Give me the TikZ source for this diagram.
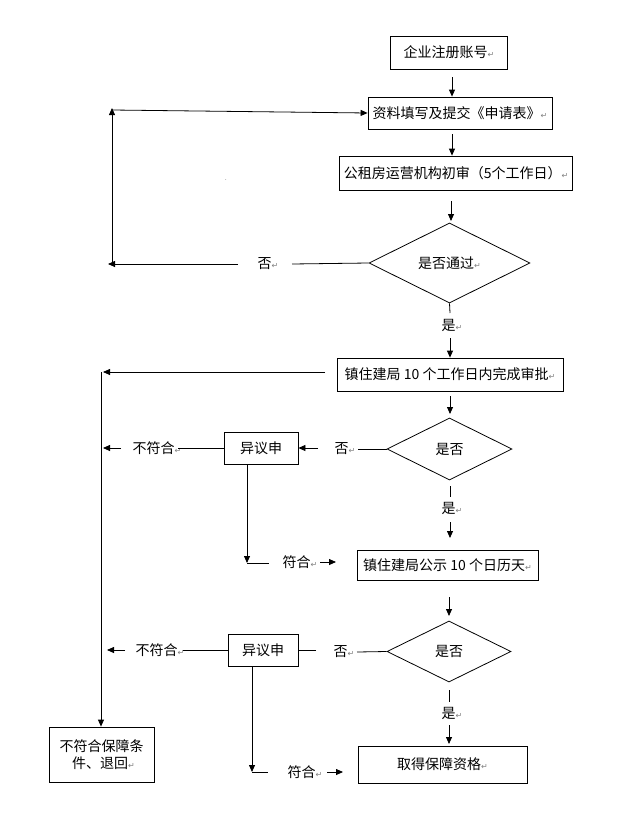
\documentclass[tikz,border=0pt]{standalone}
\usepackage{fontspec}
\newfontfamily\cjk{Noto Sans CJK SC}
\newfontfamily\dejavu{DejaVu Sans}
\usetikzlibrary{arrows.meta,shapes.geometric}
\newcommand{\ret}{{\color{gray}\dejavu\fontsize{8}{8}\selectfont ↵}}
\tikzset{
  box/.style={draw, line width=0.8pt, inner sep=0pt, font=\cjk\fontsize{14}{17}\selectfont},
  dia/.style={draw, diamond, line width=0.8pt, inner sep=0pt, font=\cjk\fontsize{14}{17}\selectfont},
  lbl/.style={inner sep=0pt, font=\cjk\fontsize{14}{17}\selectfont},
  ln/.style={line width=0.8pt},
  arr/.style={line width=0.8pt, -{Triangle[length=7pt,width=6pt]}}
}
\begin{document}
\begin{tikzpicture}[x=1pt,y=-1pt]
\useasboundingbox (0,0) rectangle (628,835);
% boxes
\node[box, minimum width=117pt, minimum height=33pt] (n1) at (449,52.5) {企业注册账号\ret};
\node[box, minimum width=184pt, minimum height=32pt] (n2) at (460,113) {资料填写及提交《申请表》\ret};
\node[box, minimum width=233pt, minimum height=34pt] (n3) at (456,173) {公租房运营机构初审（5个工作日）\ret};
\node[dia, minimum width=161pt, minimum height=80pt] (d1) at (449.5,263) {是否通过\ret};
\node[box, minimum width=226pt, minimum height=33pt] (n4) at (450,374.5) {镇住建局 10 个工作日内完成审批\ret};
\node[dia, minimum width=125pt, minimum height=62pt] (d2) at (449.5,449) {是否};
\node[box, minimum width=74pt, minimum height=32pt] (e1) at (261,448) {异议申};
\node[box, minimum width=181pt, minimum height=30pt] (n5) at (447.5,565) {镇住建局公示 10 个日历天\ret};
\node[dia, minimum width=124pt, minimum height=61pt] (d3) at (449,651.5) {是否};
\node[box, minimum width=70pt, minimum height=32pt] (e2) at (263,650) {异议申};
\node[box, minimum width=169pt, minimum height=37pt] (n6) at (442.5,764.5) {取得保障资格\ret};
\node[box, minimum width=105pt, minimum height=55pt, align=center] (nf) at (101.5,754.5) {不符合保障条\\\hspace*{4pt}件、退回\ret};
% labels
\node[lbl] (no1) at (268,264) {否\ret};
\node[lbl] (yes1) at (452,325) {是\ret};
\node[lbl] (no2) at (345,449) {否\ret};
\node[lbl] (yes2) at (452,508) {是\ret};
\node[lbl] (bf1) at (157,448) {不符合\ret};
\node[lbl] (fh1) at (300,562) {符合\ret};
\node[lbl] (no3) at (344,652) {否\ret};
\node[lbl] (yes3) at (452,713) {是\ret};
\node[lbl] (bf2) at (160,650) {不符合\ret};
\node[lbl] (fh2) at (305,772) {符合\ret};
\node[inner sep=0pt, font=\fontsize{6}{6}\selectfont] (dot) at (226,180) {.};
% coordinates
\coordinate (a1s) at (452,77);
\coordinate (a2s) at (452,134);
\coordinate (a3s) at (451,201);
\coordinate (a3e) at (451,221);
\coordinate (no1r) at (292,264);
\coordinate (no1l) at (238,264);
\coordinate (lft1) at (108,264);
\coordinate (vb1) at (112,264);
\coordinate (vt1) at (112,108);
\coordinate (vt1s) at (112,110);
\coordinate (y1a) at (450,313);
\coordinate (y1b) at (450,338);
\coordinate (n4l) at (325,372);
\coordinate (lft2) at (103,372);
\coordinate (vb2) at (101,372);
\coordinate (a4s) at (450,396);
\coordinate (a4e) at (450,414);
\coordinate (no2r) at (358,449);
\coordinate (no2l) at (318,448);
\coordinate (bf1r) at (178,448);
\coordinate (bf1l) at (121,448);
\coordinate (bf1t) at (103,448);
\coordinate (e1b) at (247,464);
\coordinate (e1d) at (247,563);
\coordinate (e1h) at (269,563);
\coordinate (fh1a) at (320,562);
\coordinate (fh1b) at (336,562);
\coordinate (y2a) at (450,486);
\coordinate (y2b) at (450,497);
\coordinate (y2c) at (450,522);
\coordinate (y2d) at (450,538);
\coordinate (a5s) at (449,597);
\coordinate (a5e) at (449,616);
\coordinate (no3r) at (357,652);
\coordinate (no3l) at (316,650);
\coordinate (bf2r) at (183,650);
\coordinate (bf2l) at (125,650);
\coordinate (bf2t) at (107,650);
\coordinate (e2b) at (252,667);
\coordinate (e2d) at (252,772);
\coordinate (e2h) at (268,772);
\coordinate (fh2a) at (327,772);
\coordinate (fh2b) at (343,772);
\coordinate (y3a) at (449,690);
\coordinate (y3b) at (449,702);
\coordinate (y3c) at (449,725);
\coordinate (y3d) at (449,744);
% connectors
\draw[arr] (a1s) -- (a1s |- n2.north);
\draw[arr] (a2s) -- (a2s |- n3.north);
\draw[arr] (a3s) -- (a3e);
\draw[ln] (d1.west) -- (no1r);
\draw[arr] (no1l) -- (lft1);
\draw[arr] (vb1) -- (vt1);
\draw[arr] (vt1s) -- (n2.west);
\draw[ln] (d1.south) -- (y1a);
\draw[arr] (y1b) -- (y1b |- n4.north);
\draw[arr] (n4l) -- (lft2);
\draw[arr] (vb2) -- (vb2 |- nf.north);
\draw[arr] (a4s) -- (a4e);
\draw[ln] (d2.west) -- (no2r);
\draw[arr] (no2l) -- (no2l -| e1.east);
\draw[ln] (e1.west) -- (bf1r);
\draw[arr] (bf1l) -- (bf1t);
\draw[arr] (e1b) -- (e1d);
\draw[ln] (e1d) -- (e1h);
\draw[arr] (fh1a) -- (fh1b);
\draw[ln] (y2a) -- (y2b);
\draw[arr] (y2c) -- (y2d);
\draw[arr] (a5s) -- (a5e);
\draw[ln] (d3.west) -- (no3r);
\draw[ln] (no3l) -- (no3l -| e2.east);
\draw[ln] (e2.west) -- (bf2r);
\draw[arr] (bf2l) -- (bf2t);
\draw[arr] (e2b) -- (e2d);
\draw[ln] (e2d) -- (e2h);
\draw[arr] (fh2a) -- (fh2b);
\draw[ln] (y3a) -- (y3b);
\draw[arr] (y3c) -- (y3d);
\end{tikzpicture}
\end{document}
